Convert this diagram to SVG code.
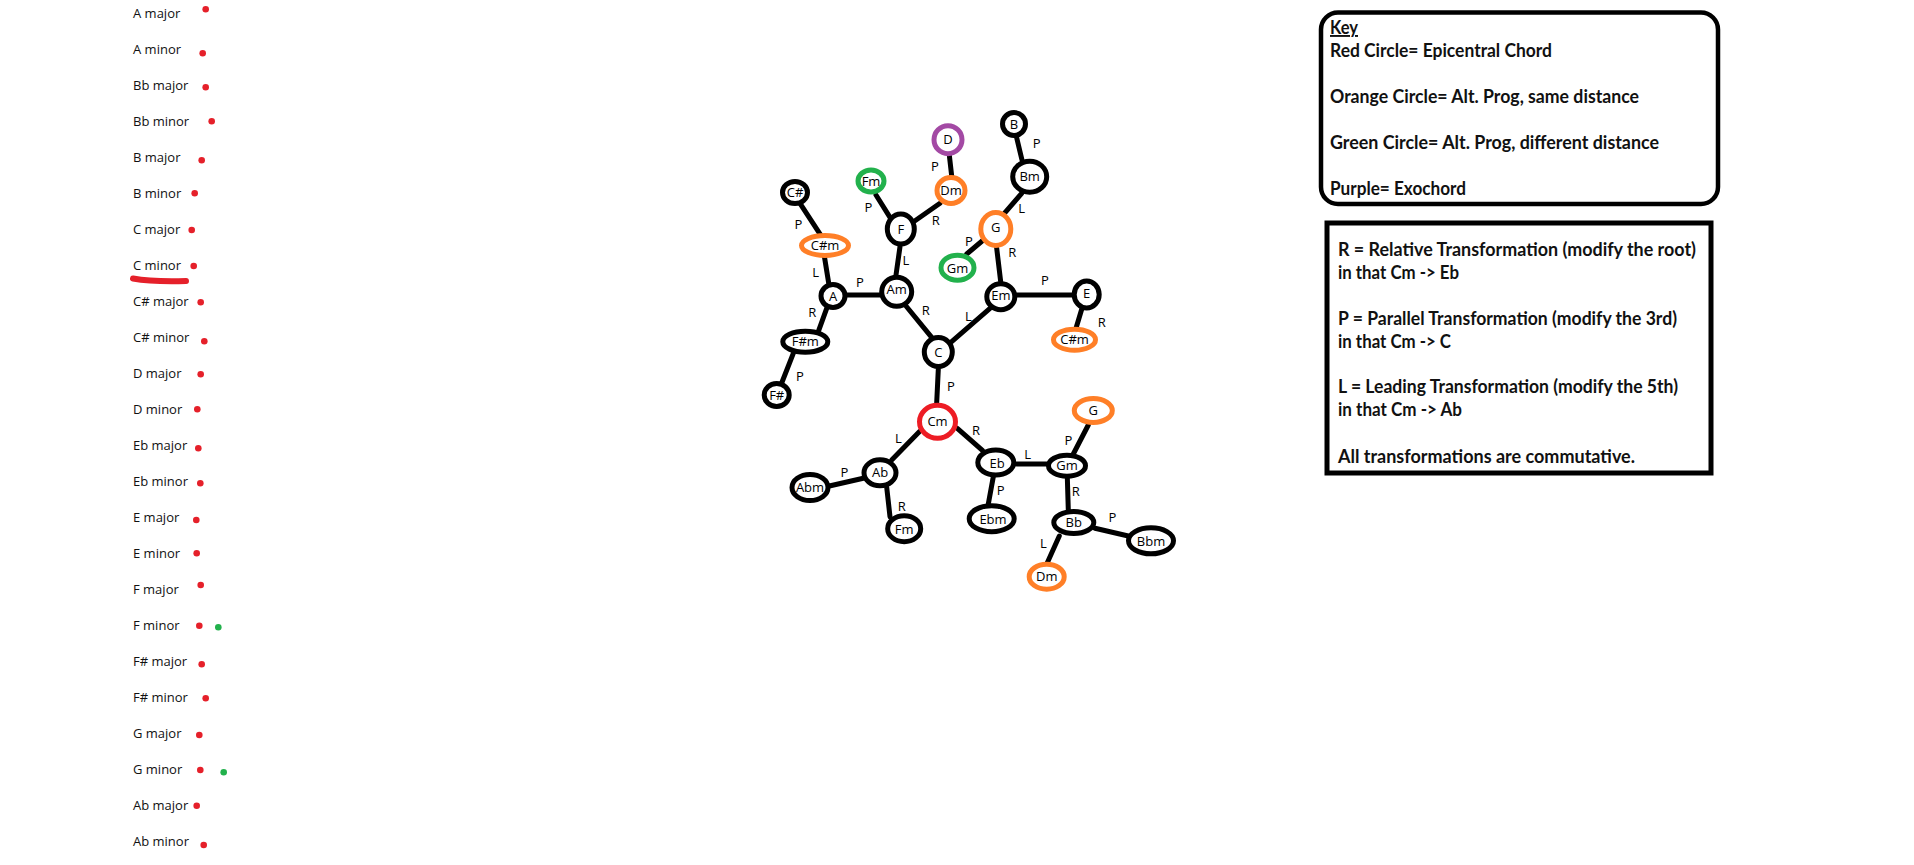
<svg xmlns="http://www.w3.org/2000/svg" width="1914" height="865" viewBox="0 0 1914 865">
<style>
.lst{font-family:"Open Sans","Liberation Sans",sans-serif;font-size:13px;fill:#111}
.rd{fill:#e5202a}
.gd{fill:#22b14c}
.n ellipse{fill:#fff;stroke-width:5}
.k{stroke:#000}
.o{stroke:#ff7f27}
.r{stroke:#ed1c24}
.g{stroke:#22b14c}
.p{stroke:#a349a4}
.n text{font-family:"Open Sans","Liberation Sans",sans-serif;font-size:13px;fill:#000;text-anchor:middle}
.el{font-family:"Open Sans","Liberation Sans",sans-serif;font-size:13px;fill:#000;text-anchor:middle}
.edges line{stroke:#000;stroke-width:5;stroke-linecap:round}
.kt{font-family:Lato,"Liberation Sans",sans-serif;font-weight:bold;font-size:19px;fill:#111}
.box{fill:#fff;stroke:#000}
</style>
<rect width="1914" height="865" fill="#fff"/>

<g id="chord-list">
<text class="lst" x="133" y="18">A major</text>
<text class="lst" x="133" y="54">A minor</text>
<text class="lst" x="133" y="90">Bb major</text>
<text class="lst" x="133" y="126">Bb minor</text>
<text class="lst" x="133" y="162">B major</text>
<text class="lst" x="133" y="198">B minor</text>
<text class="lst" x="133" y="234">C major</text>
<text class="lst" x="133" y="270">C minor</text>
<text class="lst" x="133" y="306">C# major</text>
<text class="lst" x="133" y="342">C# minor</text>
<text class="lst" x="133" y="378">D major</text>
<text class="lst" x="133" y="414">D minor</text>
<text class="lst" x="133" y="450">Eb major</text>
<text class="lst" x="133" y="486">Eb minor</text>
<text class="lst" x="133" y="522">E major</text>
<text class="lst" x="133" y="558">E minor</text>
<text class="lst" x="133" y="594">F major</text>
<text class="lst" x="133" y="630">F minor</text>
<text class="lst" x="133" y="666">F# major</text>
<text class="lst" x="133" y="702">F# minor</text>
<text class="lst" x="133" y="738">G major</text>
<text class="lst" x="133" y="774">G minor</text>
<text class="lst" x="133" y="810">Ab major</text>
<text class="lst" x="133" y="846">Ab minor</text>
<path d="M133,278.5 Q152,282 186,281" fill="none" stroke="#e5202a" stroke-width="6" stroke-linecap="round"/>
<circle class="rd" cx="205.7" cy="9.3" r="3.3"/>
<circle class="rd" cx="202.7" cy="53.3" r="3.3"/>
<circle class="rd" cx="205.7" cy="87.3" r="3.3"/>
<circle class="rd" cx="211.7" cy="121.3" r="3.3"/>
<circle class="rd" cx="201.7" cy="160.3" r="3.3"/>
<circle class="rd" cx="194.7" cy="193.3" r="3.3"/>
<circle class="rd" cx="191.7" cy="230" r="3.3"/>
<circle class="rd" cx="193.7" cy="266" r="3.3"/>
<circle class="rd" cx="200.7" cy="302.3" r="3.3"/>
<circle class="rd" cx="204.3" cy="341.3" r="3.3"/>
<circle class="rd" cx="200.7" cy="374.3" r="3.3"/>
<circle class="rd" cx="197.3" cy="409.3" r="3.3"/>
<circle class="rd" cx="198.3" cy="448.3" r="3.3"/>
<circle class="rd" cx="200.3" cy="483.3" r="3.3"/>
<circle class="rd" cx="196.3" cy="520" r="3.3"/>
<circle class="rd" cx="196.7" cy="553.3" r="3.3"/>
<circle class="rd" cx="200.7" cy="585" r="3.3"/>
<circle class="rd" cx="199.3" cy="625.7" r="3.3"/>
<circle class="gd" cx="218.3" cy="627.3" r="3.3"/>
<circle class="rd" cx="201.7" cy="664.3" r="3.3"/>
<circle class="rd" cx="205.7" cy="698.3" r="3.3"/>
<circle class="rd" cx="199.3" cy="735" r="3.3"/>
<circle class="rd" cx="200.3" cy="770" r="3.3"/>
<circle class="gd" cx="223.7" cy="772.3" r="3.3"/>
<circle class="rd" cx="196.7" cy="805.7" r="3.3"/>
<circle class="rd" cx="203.7" cy="845" r="3.3"/>
</g>

<g id="connectors" class="edges">
<line x1="800" y1="203.3" x2="821.7" y2="236.7"/>
<line x1="824" y1="254" x2="829" y2="285"/>
<line x1="826.7" y1="308.3" x2="818.3" y2="331.7"/>
<line x1="793.3" y1="353.3" x2="781.7" y2="383"/>
<line x1="846.7" y1="295" x2="880.7" y2="295"/>
<line x1="896" y1="275" x2="900" y2="246.7"/>
<line x1="890" y1="217.3" x2="876" y2="195"/>
<line x1="915" y1="220.7" x2="940" y2="203.3"/>
<line x1="951.7" y1="176" x2="949.3" y2="155"/>
<line x1="906" y1="306" x2="931.7" y2="337.3"/>
<line x1="951.7" y1="341.7" x2="990" y2="308.3"/>
<line x1="1000.7" y1="281.7" x2="996.7" y2="248.3"/>
<line x1="983.3" y1="240" x2="966.7" y2="254"/>
<line x1="1005" y1="212.7" x2="1021.7" y2="193.3"/>
<line x1="1022" y1="160" x2="1016.5" y2="137"/>
<line x1="1016.7" y1="295" x2="1072.7" y2="295"/>
<line x1="1081.7" y1="309.3" x2="1076" y2="328.3"/>
<line x1="938.3" y1="369.3" x2="936.7" y2="402.7"/>
<line x1="919.3" y1="431.7" x2="891.7" y2="460"/>
<line x1="863.3" y1="478.3" x2="829.3" y2="486"/>
<line x1="886.7" y1="487.3" x2="890" y2="516.7"/>
<line x1="957.3" y1="428.3" x2="982.7" y2="450.7"/>
<line x1="993.3" y1="476.7" x2="988.3" y2="504"/>
<line x1="1016.7" y1="464" x2="1047.3" y2="464"/>
<line x1="1073.3" y1="454" x2="1088.3" y2="425"/>
<line x1="1067.3" y1="476.7" x2="1068.3" y2="510"/>
<line x1="1095" y1="528.3" x2="1128.3" y2="536"/>
<line x1="1059.3" y1="536" x2="1047.3" y2="562.7"/>
<text class="el" x="798.3" y="228.5">P</text>
<text class="el" x="815.7" y="277.2">L</text>
<text class="el" x="812.3" y="316.5">R</text>
<text class="el" x="800" y="380.5">P</text>
<text class="el" x="860" y="287.2">P</text>
<text class="el" x="906" y="264.5">L</text>
<text class="el" x="868.3" y="211.8">P</text>
<text class="el" x="935.7" y="225.2">R</text>
<text class="el" x="935" y="171.2">P</text>
<text class="el" x="1036.7" y="147.8">P</text>
<text class="el" x="1021.7" y="212.8">L</text>
<text class="el" x="969" y="246.2">P</text>
<text class="el" x="1012.3" y="257.2">R</text>
<text class="el" x="925.7" y="315.2">R</text>
<text class="el" x="968.3" y="320.5">L</text>
<text class="el" x="1045" y="284.5">P</text>
<text class="el" x="1101.7" y="327.2">R</text>
<text class="el" x="951" y="390.5">P</text>
<text class="el" x="898.3" y="442.8">L</text>
<text class="el" x="844.3" y="476.8">P</text>
<text class="el" x="901.7" y="510.5">R</text>
<text class="el" x="976" y="434.5">R</text>
<text class="el" x="1027.7" y="458.5">L</text>
<text class="el" x="1068.3" y="444.5">P</text>
<text class="el" x="1075.7" y="495.5">R</text>
<text class="el" x="1000.7" y="494.5">P</text>
<text class="el" x="1112.3" y="521.8">P</text>
<text class="el" x="1043.3" y="547.8">L</text>
</g>

<g id="n-Csharp" class="n"><ellipse class="k" cx="795" cy="192.5" rx="12.5" ry="11" stroke-width="6"/><text x="795" y="197">C#</text></g>
<g id="n-Csharpm-1" class="n"><ellipse class="o" cx="825" cy="245.5" rx="23.5" ry="10"/><text x="825" y="250">C#m</text></g>
<g id="n-A" class="n"><ellipse class="k" cx="833" cy="296" rx="12" ry="11.5"/><text x="833" y="300.5">A</text></g>
<g id="n-Fsharpm" class="n"><ellipse class="k" cx="805.3" cy="341.7" rx="22.5" ry="10.5"/><text x="805.3" y="346.2">F#m</text></g>
<g id="n-Fsharp" class="n"><ellipse class="k" cx="776.7" cy="395" rx="12.5" ry="11.5"/><text x="776.7" y="399.5">F#</text></g>
<g id="n-Am" class="n"><ellipse class="k" cx="896.7" cy="291.7" rx="15" ry="14.5"/><text x="896.7" y="294">Am</text></g>
<g id="n-F" class="n"><ellipse class="k" cx="900.8" cy="229" rx="13.5" ry="15"/><text x="900.8" y="233.5">F</text></g>
<g id="n-Fm-1" class="n"><ellipse class="g" cx="871" cy="181" rx="13" ry="11"/><text x="871" y="185.5">Fm</text></g>
<g id="n-Dm-1" class="n"><ellipse class="o" cx="951" cy="190.5" rx="14" ry="13"/><text x="951" y="195">Dm</text></g>
<g id="n-D" class="n"><ellipse class="p" cx="948" cy="139.7" rx="14" ry="14"/><text x="948" y="144.2">D</text></g>
<g id="n-B" class="n"><ellipse class="k" cx="1014" cy="124" rx="11.5" ry="11.5"/><text x="1014" y="128.5">B</text></g>
<g id="n-Bm" class="n"><ellipse class="k" cx="1029.7" cy="176.7" rx="17" ry="15.5"/><text x="1029.7" y="180.5">Bm</text></g>
<g id="n-G-1" class="n"><ellipse class="o" cx="995.8" cy="229" rx="15" ry="16.5"/><text x="995.8" y="232">G</text></g>
<g id="n-Gm-1" class="n"><ellipse class="g" cx="957.5" cy="267.7" rx="16.5" ry="12.5"/><text x="957.5" y="273">Gm</text></g>
<g id="n-Em" class="n"><ellipse class="k" cx="1000.8" cy="296.7" rx="14" ry="13"/><text x="1000.8" y="299.5">Em</text></g>
<g id="n-E" class="n"><ellipse class="k" cx="1086.7" cy="294.5" rx="12.5" ry="13.5"/><text x="1086.7" y="298">E</text></g>
<g id="n-Csharpm-2" class="n"><ellipse class="o" cx="1074.5" cy="339.7" rx="21" ry="10.5"/><text x="1074.5" y="344.2">C#m</text></g>
<g id="n-C" class="n"><ellipse class="k" cx="938.3" cy="352" rx="14" ry="14.5"/><text x="938.3" y="356.5">C</text></g>
<g id="n-Cm" class="n"><ellipse class="r" cx="937.5" cy="421.7" rx="18" ry="16.5"/><text x="937.5" y="425.5">Cm</text></g>
<g id="n-Ab" class="n"><ellipse class="k" cx="880" cy="472.8" rx="16" ry="13"/><text x="880" y="477">Ab</text></g>
<g id="n-Abm" class="n"><ellipse class="k" cx="810" cy="487.5" rx="18" ry="13"/><text x="810" y="492">Abm</text></g>
<g id="n-Fm-2" class="n"><ellipse class="k" cx="904.2" cy="528.7" rx="16.5" ry="13"/><text x="904.2" y="534">Fm</text></g>
<g id="n-Eb" class="n"><ellipse class="k" cx="995.8" cy="462.5" rx="18" ry="12.5"/><text x="997" y="468">Eb</text></g>
<g id="n-Ebm" class="n"><ellipse class="k" cx="991.7" cy="518.7" rx="22.5" ry="13"/><text x="993" y="524">Ebm</text></g>
<g id="n-Gm-2" class="n"><ellipse class="k" cx="1067" cy="465.7" rx="18.5" ry="10.5"/><text x="1067" y="470">Gm</text></g>
<g id="n-G-2" class="n"><ellipse class="o" cx="1093.3" cy="410.5" rx="19" ry="12"/><text x="1093.3" y="415">G</text></g>
<g id="n-Bb" class="n"><ellipse class="k" cx="1073.8" cy="522.5" rx="20" ry="11"/><text x="1073.8" y="527">Bb</text></g>
<g id="n-Bbm" class="n"><ellipse class="k" cx="1151" cy="540.8" rx="22.5" ry="13"/><text x="1151" y="545.5">Bbm</text></g>
<g id="n-Dm-2" class="n"><ellipse class="o" cx="1046.7" cy="576.7" rx="17.5" ry="12.5"/><text x="1046.7" y="581">Dm</text></g>

<g id="key-colours">
<rect class="box" x="1321" y="12.5" width="397" height="191.5" rx="17" stroke-width="4.5"/>
<text class="kt" x="1330" y="34" textLength="28" lengthAdjust="spacingAndGlyphs" text-decoration="underline">Key</text>
<text class="kt" x="1330" y="57" textLength="222" lengthAdjust="spacingAndGlyphs">Red Circle= Epicentral Chord</text>
<text class="kt" x="1330" y="103" textLength="309" lengthAdjust="spacingAndGlyphs">Orange Circle= Alt. Prog, same distance</text>
<text class="kt" x="1330" y="149" textLength="329" lengthAdjust="spacingAndGlyphs">Green Circle= Alt. Prog, different distance</text>
<text class="kt" x="1330" y="195" textLength="136" lengthAdjust="spacingAndGlyphs">Purple= Exochord</text>
</g>

<g id="key-transformations">
<rect class="box" x="1327" y="223" width="384" height="250" stroke-width="5"/>
<text class="kt" x="1338" y="256" textLength="358" lengthAdjust="spacingAndGlyphs">R = Relative Transformation (modify the root)</text>
<text class="kt" x="1338" y="279" textLength="121" lengthAdjust="spacingAndGlyphs">in that Cm -&gt; Eb</text>
<text class="kt" x="1338" y="325" textLength="339" lengthAdjust="spacingAndGlyphs">P = Parallel Transformation (modify the 3rd)</text>
<text class="kt" x="1338" y="348" textLength="113" lengthAdjust="spacingAndGlyphs">in that Cm -&gt; C</text>
<text class="kt" x="1338" y="393" textLength="340" lengthAdjust="spacingAndGlyphs">L = Leading Transformation (modify the 5th)</text>
<text class="kt" x="1338" y="416" textLength="124" lengthAdjust="spacingAndGlyphs">in that Cm -&gt; Ab</text>
<text class="kt" x="1338" y="463" textLength="297" lengthAdjust="spacingAndGlyphs">All transformations are commutative.</text>
</g>
</svg>
